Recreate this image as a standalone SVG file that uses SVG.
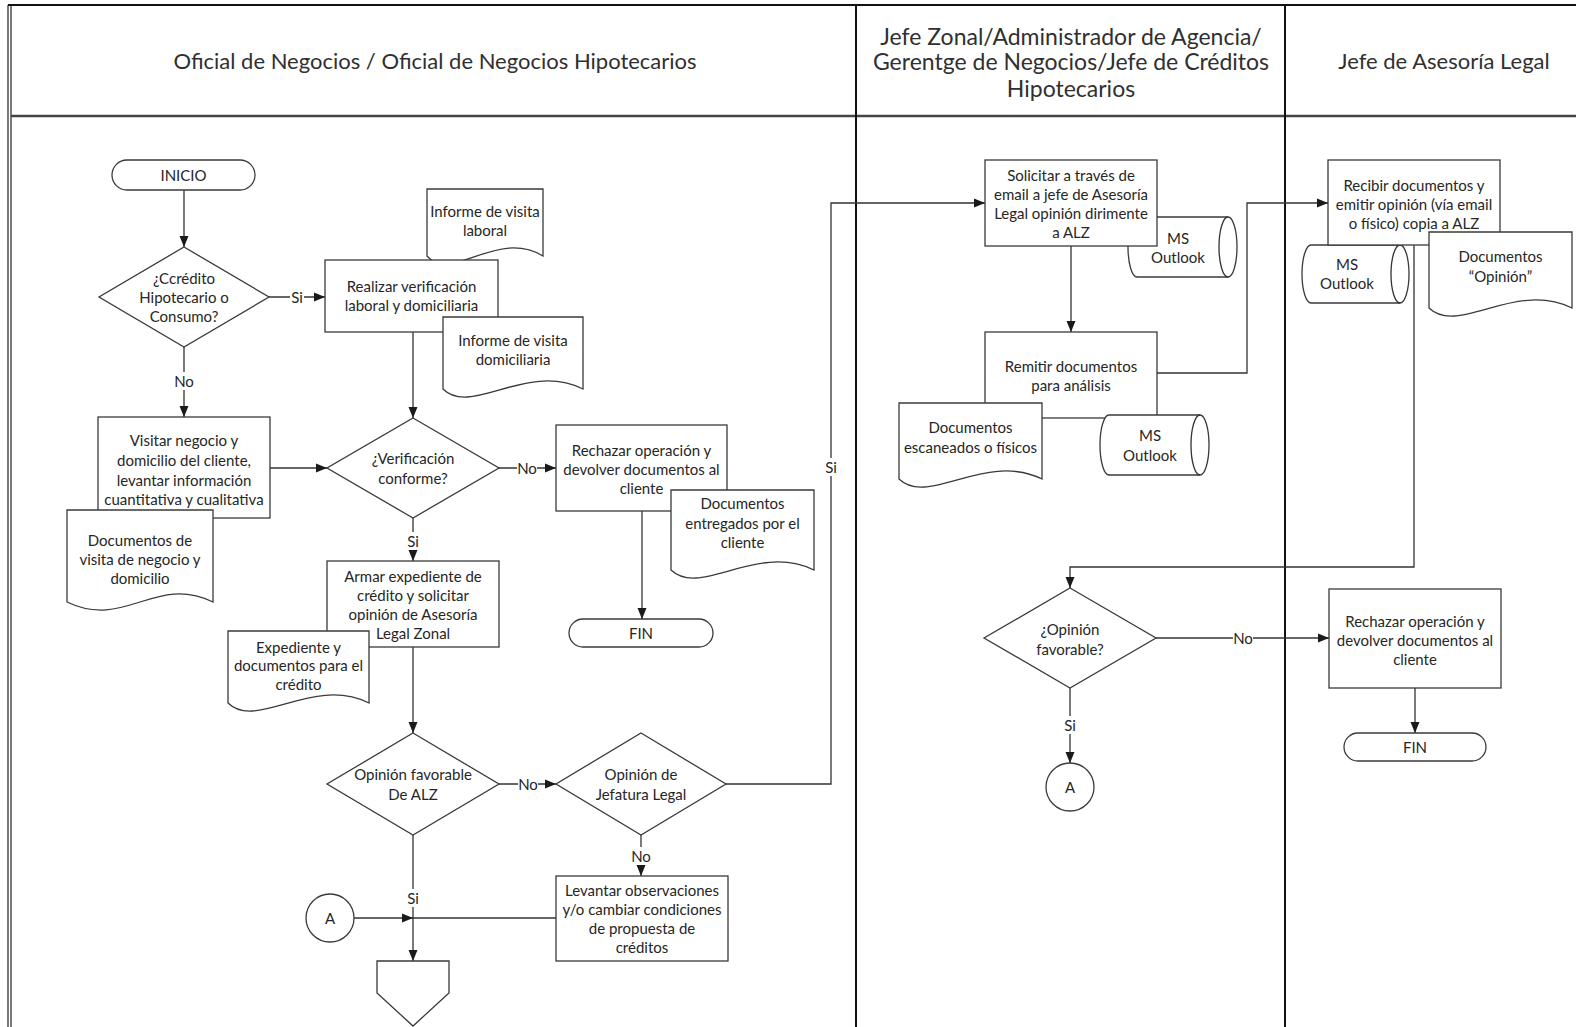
<svg xmlns="http://www.w3.org/2000/svg" width="1576" height="1027" viewBox="0 0 1576 1027">
<defs>
<marker id="ah" markerUnits="userSpaceOnUse" markerWidth="12" markerHeight="10" refX="11" refY="5" orient="auto">
<path d="M0,0.5 L11,5 L0,9.5 Z" fill="#1a1a1a"/>
</marker>
<style>
.s{fill:#fff;stroke:#3a3a3a;stroke-width:1.3}
.c{fill:none;stroke:#333;stroke-width:1.3}
.ca{fill:none;stroke:#333;stroke-width:1.3;marker-end:url(#ah)}
.fr{stroke:#333;stroke-width:1.3;fill:none}
.ln{stroke:#111;stroke-width:2;fill:none}
.lb{fill:#fff}
text{font-family:Lato,"Liberation Sans",sans-serif;font-size:15px;fill:#262626;text-anchor:middle;dominant-baseline:central}
.h{font-size:22px;fill:#303030}
.h2{font-size:23px}
</style>
</defs>
<rect width="1576" height="1027" fill="#fff"/>
<g id="frame">
<line class="fr" x1="8" y1="5" x2="8" y2="1027"/>
<line class="fr" x1="11" y1="5" x2="11" y2="1027"/>
<line class="ln" x1="8" y1="5" x2="1576" y2="5"/>
<line x1="11" y1="116" x2="1576" y2="116" stroke="#444" stroke-width="2.5"/>
<line class="ln" x1="856" y1="5" x2="856" y2="1027"/>
<line class="ln" x1="1285" y1="5" x2="1285" y2="1027"/>
<text class="h" x="435" y="60">Oficial de Negocios / Oficial de Negocios Hipotecarios</text>
<text class="h h2" x="1071" y="36">Jefe Zonal/Administrador de Agencia/</text>
<text class="h h2" x="1071" y="61">Gerentge de Negocios/Jefe de Créditos</text>
<text class="h h2" x="1071" y="88">Hipotecarios</text>
<text class="h" x="1444" y="60">Jefe de Asesoría Legal</text>
</g>
<g id="connectors">
<path class="ca" d="M184,190 V247"/>
<path class="ca" d="M269,297 H325"/>
<path class="ca" d="M184,347 V417"/>
<path class="ca" d="M413,332 V418"/>
<path class="ca" d="M270,468 H327"/>
<path class="ca" d="M499,468 H556"/>
<path class="ca" d="M413,518 V561"/>
<path class="ca" d="M642,511 V619"/>
<path class="ca" d="M413,647 V733"/>
<path class="ca" d="M499,784 H556"/>
<path class="ca" d="M726,784 H831 V203 H985"/>
<path class="ca" d="M641,835 V876"/>
<path class="ca" d="M413,835 V961"/>
<path class="ca" d="M354,918 H413"/>
<path class="c" d="M556,918 H413"/>
<path class="ca" d="M1071,246 V332"/>
<path class="ca" d="M1157,373 H1247 V203 H1328"/>
<path class="ca" d="M1414,245 V567 H1070 V588"/>
<path class="ca" d="M1156,638 H1329"/>
<path class="ca" d="M1070,688 V763"/>
<path class="ca" d="M1415,688 V733"/>
<g id="labels">
<rect class="lb" x="290" y="288" width="14" height="18"/><text x="297" y="297">Si</text>
<rect class="lb" x="174" y="372" width="20" height="18"/><text x="184" y="381">No</text>
<rect class="lb" x="517" y="459" width="20" height="18"/><text x="527" y="468">No</text>
<rect class="lb" x="406" y="532" width="14" height="18"/><text x="413" y="541">Si</text>
<rect class="lb" x="518" y="775" width="20" height="18"/><text x="528" y="784">No</text>
<rect class="lb" x="824" y="458" width="14" height="18"/><text x="831" y="467">Si</text>
<rect class="lb" x="631" y="847" width="20" height="18"/><text x="641" y="856">No</text>
<rect class="lb" x="406" y="889" width="14" height="18"/><text x="413" y="898">Si</text>
<rect class="lb" x="1233" y="629" width="20" height="18"/><text x="1243" y="638">No</text>
<rect class="lb" x="1063" y="716" width="14" height="18"/><text x="1070" y="725">Si</text>
</g>
</g>
<g id="inicio">
<rect class="s" x="112" y="160" width="143" height="30" rx="15"/>
<text x="183.5" y="175">INICIO</text>
</g>
<g id="d-tipo-credito">
<path class="s" d="M184,247 L269,297 L184,347 L99,297 Z"/>
<text x="184" y="278">¿Ccrédito</text>
<text x="184" y="297">Hipotecario o</text>
<text x="184" y="316">Consumo?</text>
</g>
<g id="doc-laboral">
<path class="s" d="M427,189 H543 V256 C496.6,228 450.4,284 427,256 Z"/>
<text x="485" y="211">Informe de visita</text>
<text x="485" y="230">laboral</text>
</g>
<g id="realizar-verificacion">
<rect class="s" x="325" y="260" width="173" height="72"/>
<text x="411.5" y="286">Realizar verificación</text>
<text x="411.5" y="305">laboral y domiciliaria</text>
</g>
<g id="doc-domiciliaria">
<path class="s" d="M443,317 H583 V389 C527,361 471,417 443,389 Z"/>
<text x="513" y="340">Informe de visita</text>
<text x="513" y="359">domiciliaria</text>
</g>
<g id="visitar-negocio">
<rect class="s" x="98" y="417" width="172" height="101"/>
<text x="184" y="440">Visitar negocio y</text>
<text x="184" y="460">domicilio del cliente,</text>
<text x="184" y="480">levantar información</text>
<text x="184" y="499">cuantitativa y cualitativa</text>
</g>
<g id="doc-visita">
<path class="s" d="M67,510 H213 V602 C154.6,574 125.4,630 67,602 Z"/>
<text x="140" y="540">Documentos de</text>
<text x="140" y="559">visita de negocio y</text>
<text x="140" y="578">domicilio</text>
</g>
<g id="d-verificacion">
<path class="s" d="M413,418 L499,468 L413,518 L327,468 Z"/>
<text x="413" y="458">¿Verificación</text>
<text x="413" y="478">conforme?</text>
</g>
<g id="rechazar-1">
<rect class="s" x="556" y="425" width="171" height="86"/>
<text x="641.5" y="450">Rechazar operación y</text>
<text x="641.5" y="469">devolver documentos al</text>
<text x="641.5" y="488">cliente</text>
</g>
<g id="doc-entregados">
<path class="s" d="M671,490 H814 V570 C756.8,542 700.2,598 671,570 Z"/>
<text x="742.5" y="503">Documentos</text>
<text x="742.5" y="523">entregados por el</text>
<text x="742.5" y="542">cliente</text>
</g>
<g id="fin-1">
<rect class="s" x="569" y="619" width="144" height="28" rx="14"/>
<text x="641" y="633">FIN</text>
</g>
<g id="armar-expediente">
<rect class="s" x="327" y="561" width="172" height="86"/>
<text x="413" y="576">Armar expediente de</text>
<text x="413" y="595">crédito y solicitar</text>
<text x="413" y="614">opinión de Asesoría</text>
<text x="413" y="633">Legal Zonal</text>
</g>
<g id="doc-expediente">
<path class="s" d="M228,631 H369 V703 C312.6,675 256.4,731 228,703 Z"/>
<text x="298.5" y="647">Expediente y</text>
<text x="298.5" y="665">documentos para el</text>
<text x="298.5" y="684">crédito</text>
</g>
<g id="d-opinion-alz">
<path class="s" d="M413,733 L499,784 L413,835 L327,784 Z"/>
<text x="413" y="774">Opinión favorable</text>
<text x="413" y="794">De ALZ</text>
</g>
<g id="d-jefatura-legal">
<path class="s" d="M641,733 L726,784 L641,835 L556,784 Z"/>
<text x="641" y="774">Opinión de</text>
<text x="641" y="794">Jefatura Legal</text>
</g>
<g id="levantar-observaciones">
<rect class="s" x="556" y="876" width="172" height="85"/>
<text x="642" y="890">Levantar observaciones</text>
<text x="642" y="909">y/o cambiar condiciones</text>
<text x="642" y="928">de propuesta de</text>
<text x="642" y="947">créditos</text>
</g>
<g id="conector-a-1">
<circle class="s" cx="330" cy="918" r="24"/>
<text x="330" y="918">A</text>
</g>
<g id="conector-pagina">
<path class="s" d="M377,961 H449 V993 L413,1026 L377,993 Z"/>
</g>
<g id="outlook-1">
<path class="s" d="M1137,217 H1228 A9,30 0 0 1 1228,277 H1137 A9,30 0 0 1 1137,217 Z"/>
<path class="c" d="M1228,217 A9,30 0 0 0 1228,277"/>
<text x="1178" y="238">MS</text>
<text x="1178" y="257">Outlook</text>
</g>
<g id="solicitar-email">
<rect class="s" x="985" y="160" width="172" height="86"/>
<text x="1071" y="175">Solicitar a través de</text>
<text x="1071" y="194">email a jefe de Asesoría</text>
<text x="1071" y="213">Legal opinión dirimente</text>
<text x="1071" y="232">a ALZ</text>
</g>
<g id="remitir-documentos">
<rect class="s" x="985" y="332" width="172" height="86"/>
<text x="1071" y="366">Remitir documentos</text>
<text x="1071" y="385">para análisis</text>
</g>
<g id="doc-escaneados">
<path class="s" d="M899,403 H1042 V479 C984.8,451 928.2,507 899,479 Z"/>
<text x="970.5" y="427">Documentos</text>
<text x="970.5" y="447">escaneados o físicos</text>
</g>
<g id="outlook-2">
<path class="s" d="M1109,415 H1200 A9,30 0 0 1 1200,475 H1109 A9,30 0 0 1 1109,415 Z"/>
<path class="c" d="M1200,415 A9,30 0 0 0 1200,475"/>
<text x="1150" y="435">MS</text>
<text x="1150" y="455">Outlook</text>
</g>
<g id="d-opinion-favorable">
<path class="s" d="M1070,588 L1156,638 L1070,688 L984,638 Z"/>
<text x="1070" y="629">¿Opinión</text>
<text x="1070" y="649">favorable?</text>
</g>
<g id="conector-a-2">
<circle class="s" cx="1070" cy="787" r="24"/>
<text x="1070" y="787">A</text>
</g>
<g id="outlook-3">
<path class="s" d="M1311,245 H1400 A9,29 0 0 1 1400,303 H1311 A9,29 0 0 1 1311,245 Z"/>
<path class="c" d="M1400,245 A9,29 0 0 0 1400,303"/>
<text x="1347" y="264">MS</text>
<text x="1347" y="283">Outlook</text>
</g>
<g id="recibir-documentos">
<rect class="s" x="1328" y="160" width="172" height="85"/>
<text x="1414" y="185">Recibir documentos y</text>
<text x="1414" y="204">emitir opinión (vía email</text>
<text x="1414" y="223">o físico) copia a ALZ</text>
</g>
<g id="doc-opinion">
<path class="s" d="M1429,232 H1572 V308 C1514.8,280 1458.2,336 1429,308 Z"/>
<text x="1500.5" y="256">Documentos</text>
<text x="1500.5" y="276">“Opinión”</text>
</g>
<g id="rechazar-2">
<rect class="s" x="1329" y="589" width="172" height="99"/>
<text x="1415" y="621">Rechazar operación y</text>
<text x="1415" y="640">devolver documentos al</text>
<text x="1415" y="659">cliente</text>
</g>
<g id="fin-2">
<rect class="s" x="1344" y="733" width="142" height="28" rx="14"/>
<text x="1415" y="747">FIN</text>
</g>
</svg>
